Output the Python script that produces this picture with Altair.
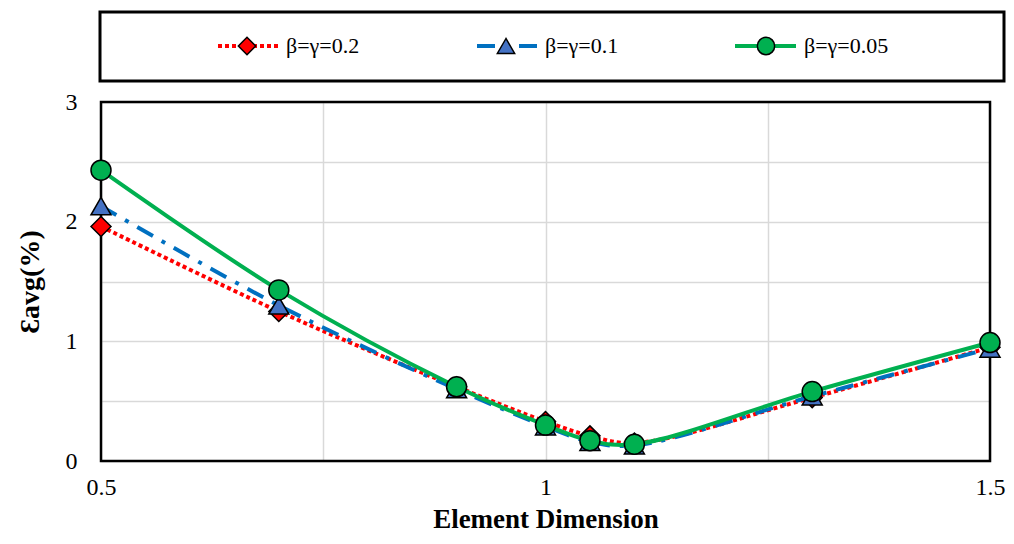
import altair as alt
import pandas as pd

# ---- data ----
x_vals = [0.5, 0.7, 0.9, 1.0, 1.05, 1.1, 1.3, 1.5]
red_vals = [1.96, 1.25, 0.62, 0.33, 0.21, 0.15, 0.53, 0.95]     # beta=gamma=0.2
blue_vals = [2.13, 1.30, 0.60, 0.29, 0.16, 0.13, 0.54, 0.94]    # beta=gamma=0.1
green_vals = [2.43, 1.43, 0.62, 0.30, 0.17, 0.14, 0.58, 0.99]   # beta=gamma=0.05
series_names = ["β=γ=0.2", "β=γ=0.1", "β=γ=0.05"]
x_ticks = [0.5, 0.75, 1, 1.25, 1.5]
y_ticks = [0, 0.5, 1, 1.5, 2, 2.5, 3]

FONT = "Liberation Serif"
W, H = 889, 359

x_enc = alt.X(
    "x:Q",
    scale=alt.Scale(domain=[0.5, 1.5], nice=False, zero=False),
    axis=alt.Axis(
        values=x_ticks, format="~g",
        labelExpr="(datum.value == 0.75 || datum.value == 1.25) ? '' : datum.label",
        title="Element Dimension", titleFont=FONT, titleFontSize=27, titleFontWeight="bold",
        titleColor="black", titlePadding=7,
        labelFont=FONT, labelFontSize=24, labelColor="black", labelPadding=14,
        ticks=False, domain=False, grid=True, gridColor="#d9d9d9", gridWidth=1.5,
        labelFlush=False,
    ),
)
y_enc = alt.Y(
    "y:Q",
    scale=alt.Scale(domain=[0, 3], nice=False),
    axis=alt.Axis(
        values=y_ticks, format="~g",
        labelExpr="datum.value % 1 == 0 ? datum.label : ''",
        title="Ɛavg(%)", titleFont=FONT, titleFontSize=28, titleFontWeight="bold",
        titleColor="black", titlePadding=21,
        labelFont=FONT, labelFontSize=24, labelColor="black", labelPadding=24,
        ticks=False, domain=False, grid=True, gridColor="#d9d9d9", gridWidth=1.5,
    ),
)

dummy = pd.DataFrame({"k": [0]})

# plot frame (drawn above grid, below series)
frame = alt.Chart(dummy).mark_rect(
    fill="white", fillOpacity=0, stroke="black", strokeWidth=2.5
).encode(x=alt.value(0), x2=alt.value(W), y=alt.value(0), y2=alt.value(H))


def series(vals, name, color, dash, shape, fill):
    df = pd.DataFrame({"x": x_vals, "y": vals, "s": name})
    line_kw = dict(color=color, strokeWidth=4, interpolate="catmull-rom", strokeCap="butt")
    if dash:
        line_kw["strokeDash"] = dash
    line = alt.Chart(df).mark_line(**line_kw).encode(x=x_enc, y=y_enc)
    pts = alt.Chart(df).mark_point(
        shape=shape, filled=True, fill=fill, stroke="black", strokeWidth=1.5,
        size=400, opacity=1
    ).encode(x=x_enc, y=y_enc)
    return [line, pts]


layers = [frame]
layers += series(red_vals, series_names[0], "#FF0000", [4, 3], "diamond", "#FF0000")
layers += series(blue_vals, series_names[1], "#0070C0", [18, 10, 4, 10], "triangle-up", "#4472C4")
layers += series(green_vals, series_names[2], "#00B050", None, "circle", "#00B050")

# ---- legend box at the top ----
LY = -56
legend_box = alt.Chart(dummy).mark_rect(
    fill="white", fillOpacity=0, stroke="black", strokeWidth=3
).encode(x=alt.value(-1), x2=alt.value(903), y=alt.value(-90), y2=alt.value(-21))
layers.append(legend_box)

legend_items = [
    # name, color, dash, shape, fill, line x1, line x2, marker x, text x
    (series_names[0], "#FF0000", [4, 3], "diamond", "#FF0000", 117, 177, 146, 185),
    (series_names[1], "#0070C0", [18, 10, 4, 10], "triangle-up", "#4472C4", 376, 438, 405, 444),
    (series_names[2], "#00B050", None, "circle", "#00B050", 634, 695, 665, 703),
]
for name, color, dash, shape, fill, lx1, lx2, mx, tx in legend_items:
    rk = dict(color=color, strokeWidth=4, strokeCap="butt")
    if dash:
        rk["strokeDash"] = dash
    layers.append(
        alt.Chart(dummy).mark_rule(**rk).encode(
            x=alt.value(lx1), x2=alt.value(lx2), y=alt.value(LY)
        )
    )
    layers.append(
        alt.Chart(dummy).mark_point(
            shape=shape, filled=True, fill=fill, stroke="black", strokeWidth=1.5,
            size=300, opacity=1
        ).encode(x=alt.value(mx), y=alt.value(LY))
    )
    layers.append(
        alt.Chart(pd.DataFrame({"t": [name]})).mark_text(
            font=FONT, fontSize=22, align="left", baseline="middle", color="black"
        ).encode(x=alt.value(tx), y=alt.value(LY), text="t:N")
    )

chart = alt.layer(*layers).properties(
    width=W, height=H,
    autosize=alt.AutoSizeParams(type="none"),
    padding={"left": 93, "top": 94, "right": 16, "bottom": 75},
).configure_view(strokeWidth=0)

chart.save("out.html", embed_options={"renderer": "svg", "actions": False})
